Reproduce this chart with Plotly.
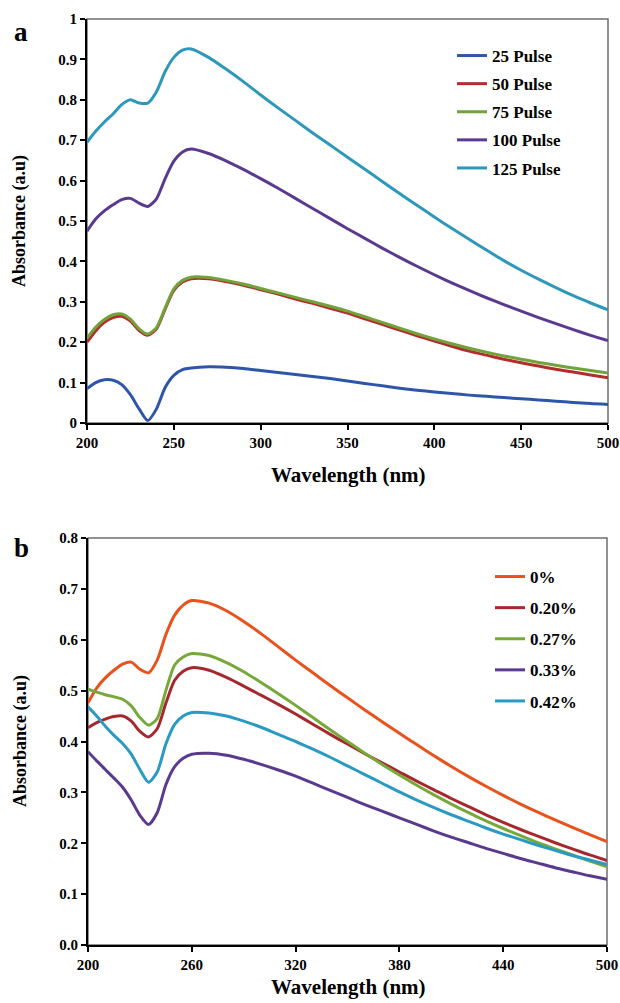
import plotly.graph_objects as go

# ---------------- data ----------------
wavelength = [200, 205, 210, 215, 220, 225, 230, 235, 240, 245, 250, 255, 260,
              270, 280, 290, 300, 310, 320, 330, 340, 350, 360, 370, 380, 390,
              400, 410, 420, 430, 440, 450, 460, 470, 480, 490, 500]

# panel a: pulses
pulse_names = ["25 Pulse", "50 Pulse", "75 Pulse", "100 Pulse", "125 Pulse"]
pulse25 = [0.085, 0.100, 0.107, 0.106, 0.095, 0.070, 0.035, 0.006, 0.035, 0.088, 0.118, 0.132, 0.136,
           0.139, 0.138, 0.135, 0.130, 0.125, 0.120, 0.115, 0.110, 0.104, 0.098, 0.092, 0.086, 0.081,
           0.077, 0.073, 0.069, 0.066, 0.063, 0.060, 0.057, 0.054, 0.051, 0.048, 0.046]
pulse50 = [0.200, 0.228, 0.249, 0.261, 0.264, 0.252, 0.229, 0.217, 0.233, 0.282, 0.328, 0.349, 0.357,
           0.357, 0.350, 0.341, 0.330, 0.319, 0.307, 0.296, 0.284, 0.272, 0.258, 0.244, 0.230, 0.216,
           0.203, 0.190, 0.178, 0.168, 0.158, 0.149, 0.141, 0.133, 0.126, 0.119, 0.112]
pulse75 = [0.210, 0.237, 0.256, 0.268, 0.270, 0.257, 0.233, 0.220, 0.236, 0.285, 0.332, 0.353, 0.361,
           0.360, 0.353, 0.344, 0.333, 0.322, 0.311, 0.300, 0.289, 0.277, 0.263, 0.249, 0.235, 0.221,
           0.208, 0.196, 0.185, 0.175, 0.166, 0.158, 0.150, 0.143, 0.136, 0.130, 0.124]
pulse100 = [0.475, 0.505, 0.525, 0.540, 0.553, 0.556, 0.544, 0.536, 0.555, 0.605, 0.648, 0.671, 0.678,
            0.667, 0.649, 0.628, 0.605, 0.581, 0.556, 0.531, 0.506, 0.481, 0.457, 0.433, 0.410, 0.388,
            0.367, 0.347, 0.328, 0.310, 0.293, 0.277, 0.261, 0.246, 0.231, 0.217, 0.204]
pulse125 = [0.695, 0.722, 0.745, 0.765, 0.788, 0.800, 0.792, 0.792, 0.820, 0.870, 0.905, 0.923, 0.926,
            0.905, 0.876, 0.845, 0.812, 0.780, 0.749, 0.718, 0.688, 0.658, 0.628, 0.598, 0.568, 0.539,
            0.510, 0.482, 0.455, 0.428, 0.402, 0.378, 0.356, 0.335, 0.315, 0.297, 0.280]

# panel b: concentrations
conc_names = ["0%", "0.20%", "0.27%", "0.33%", "0.42%"]
conc0 = [0.476, 0.505, 0.525, 0.540, 0.552, 0.556, 0.542, 0.535, 0.560, 0.610, 0.648, 0.668, 0.677,
         0.672, 0.657, 0.636, 0.612, 0.586, 0.560, 0.535, 0.510, 0.486, 0.462, 0.439, 0.416, 0.394,
         0.372, 0.351, 0.331, 0.312, 0.294, 0.277, 0.261, 0.246, 0.231, 0.217, 0.203]
conc020 = [0.427, 0.437, 0.444, 0.449, 0.450, 0.440, 0.420, 0.409, 0.425, 0.475, 0.520, 0.538, 0.545,
           0.540, 0.526, 0.509, 0.491, 0.473, 0.454, 0.434, 0.414, 0.395, 0.376, 0.358, 0.340, 0.322,
           0.305, 0.288, 0.272, 0.256, 0.241, 0.227, 0.214, 0.201, 0.189, 0.177, 0.166]
conc027 = [0.503, 0.497, 0.492, 0.488, 0.483, 0.470, 0.447, 0.432, 0.445, 0.500, 0.550, 0.566, 0.573,
           0.569, 0.555, 0.537, 0.516, 0.494, 0.471, 0.447, 0.423, 0.400, 0.377, 0.355, 0.334, 0.314,
           0.295, 0.277, 0.260, 0.244, 0.229, 0.215, 0.201, 0.189, 0.177, 0.165, 0.154]
conc033 = [0.380, 0.362, 0.345, 0.328, 0.310, 0.285, 0.255, 0.237, 0.260, 0.315, 0.350, 0.367, 0.375,
           0.377, 0.373, 0.365, 0.355, 0.344, 0.332, 0.318, 0.304, 0.290, 0.276, 0.263, 0.250, 0.237,
           0.224, 0.212, 0.201, 0.190, 0.180, 0.170, 0.161, 0.152, 0.144, 0.136, 0.129]
conc042 = [0.468, 0.450, 0.430, 0.412, 0.396, 0.375, 0.345, 0.320, 0.340, 0.395, 0.433, 0.450, 0.457,
           0.456, 0.450, 0.440, 0.428, 0.414, 0.400, 0.385, 0.369, 0.352, 0.335, 0.318, 0.301, 0.285,
           0.270, 0.256, 0.243, 0.230, 0.218, 0.207, 0.196, 0.186, 0.176, 0.167, 0.158]

x_ticks_a = [200, 250, 300, 350, 400, 450, 500]
x_ticks_b = [200, 260, 320, 380, 440, 500]

pulse_colors = ["#2E56A8", "#B32D2D", "#72A23A", "#5A3A8E", "#2E98BA"]
conc_colors = ["#E8521C", "#A6282E", "#76A83A", "#5A3A8E", "#2A9AC2"]

# ---------------- figure ----------------
FONT = "Liberation Serif, Times New Roman, Times, serif"
fig = go.Figure()

series_a = [pulse25, pulse50, pulse75, pulse100, pulse125]
for name, ys, col in zip(pulse_names, series_a, pulse_colors):
    fig.add_trace(go.Scatter(x=wavelength, y=ys, name=name, mode="lines",
                             line=dict(color=col, width=3, shape="spline", smoothing=0.7),
                             xaxis="x", yaxis="y", legend="legend", legendgroup=name))

series_b = [conc0, conc020, conc027, conc033, conc042]
for name, ys, col in zip(conc_names, series_b, conc_colors):
    fig.add_trace(go.Scatter(x=wavelength, y=ys, name=name, mode="lines",
                             line=dict(color=col, width=3, shape="spline", smoothing=0.7),
                             xaxis="x2", yaxis="y2", legend="legend2", legendgroup=name))

W, H = 620, 1003
tickfont = dict(family=FONT, size=15, color="black", weight="bold")

def xax(domain, ticks):
    return dict(domain=domain, range=[200, 500], tickvals=ticks, showgrid=False, zeroline=False,
                showline=True, linecolor="black", linewidth=2, ticks="outside", ticklen=5,
                tickwidth=1.5, tickcolor="black", tickfont=tickfont, fixedrange=True,
                automargin=False)

def yax(domain, rng, dtick, fmt):
    return dict(domain=domain, range=rng, dtick=dtick, tick0=0, tickformat=fmt, showgrid=False,
                zeroline=False, showline=True, linecolor="black", linewidth=2, ticks="outside",
                ticklen=5, tickwidth=1.5, tickcolor="black", tickfont=tickfont, fixedrange=True,
                automargin=False)

legend_font = dict(family=FONT, size=17, color="black", weight="bold")
fig.update_layout(
    width=W, height=H, margin=dict(l=0, r=0, t=0, b=0, autoexpand=False),
    paper_bgcolor="white", plot_bgcolor="white",
    xaxis=xax([87 / W, 608 / W], x_ticks_a),
    yaxis=dict(yax([1 - 423 / H, 1 - 19 / H], [0, 1], 0.1, ""), anchor="x"),
    xaxis2=dict(xax([88 / W, 607 / W], x_ticks_b), anchor="y2"),
    yaxis2=dict(yax([1 - 945 / H, 1 - 538 / H], [0, 0.8], 0.1, ".1f"), anchor="x2"),
    legend=dict(x=452 / W, y=1 - 38 / H, xanchor="left", yanchor="top", font=legend_font,
                bgcolor="rgba(0,0,0,0)", tracegroupgap=3, itemwidth=30),
    legend2=dict(x=490 / W, y=1 - 559 / H, xanchor="left", yanchor="top", font=legend_font,
                 bgcolor="rgba(0,0,0,0)", tracegroupgap=6, itemwidth=30),
    showlegend=True,
)

# plot-area frame (thin grey top/right border)
for xr, yr in (("x domain", "y domain"), ("x2 domain", "y2 domain")):
    fig.add_shape(type="rect", xref=xr, yref=yr, x0=0, x1=1, y0=0, y1=1,
                  line=dict(color="#6E6E6E", width=1.5), layer="below")

title_font = dict(family=FONT, size=21, color="black", weight="bold")
ann = [
    dict(text="a", x=12 / W, y=1 - 32 / H, xanchor="left", yanchor="middle",
         font=dict(family=FONT, size=27, color="black", weight="bold")),
    dict(text="b", x=12 / W, y=1 - 548 / H, xanchor="left", yanchor="middle",
         font=dict(family=FONT, size=27, color="black", weight="bold")),
    dict(text="Wavelength (nm)", x=348 / W, y=1 - 475 / H, xanchor="center", yanchor="middle",
         font=title_font),
    dict(text="Wavelength (nm)", x=348 / W, y=1 - 1001 / H, xanchor="center", yanchor="bottom",
         font=title_font),
    dict(text="Absorbance (a.u)", x=20 / W, y=1 - 221 / H, xanchor="center", yanchor="middle",
         textangle=-90, font=dict(family=FONT, size=18, color="black", weight="bold")),
    dict(text="Absorbance (a.u)", x=20 / W, y=1 - 741 / H, xanchor="center", yanchor="middle",
         textangle=-90, font=dict(family=FONT, size=18, color="black", weight="bold")),
]
for a in ann:
    a.update(xref="paper", yref="paper", showarrow=False)
    fig.add_annotation(**a)

fig.write_html("out.html",
               post_script="document.body.style.margin='0';document.body.style.padding='0';")
